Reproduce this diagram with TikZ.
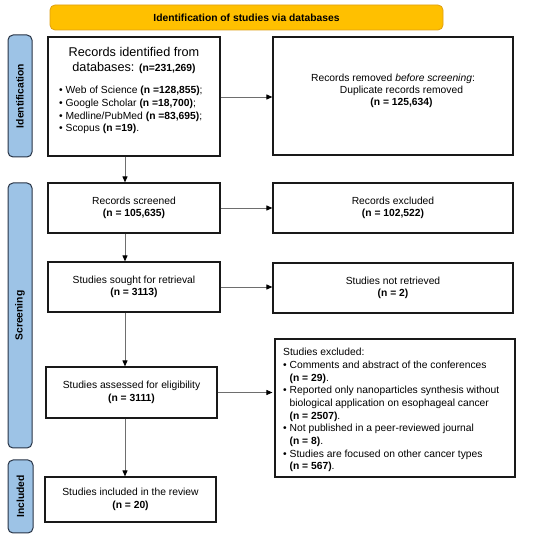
\documentclass[tikz,border=0pt]{standalone}
\usepackage{fontspec}
\setmainfont{Liberation Sans}
\usetikzlibrary{arrows.meta}

\definecolor{barfill}{RGB}{255,192,0}
\definecolor{bardraw}{RGB}{222,160,20}
\definecolor{sidefill}{RGB}{157,195,230}
\definecolor{sidedraw}{RGB}{40,52,70}
\definecolor{arrgray}{RGB}{110,110,110}

\newcommand{\bul}{\textbullet\ }
\newcommand{\ind}{\hphantom{\textbullet\ }}

\tikzset{
  box/.style={draw=black!90, line width=1.2pt, inner sep=0pt, align=center,
    font=\fontsize{10.3}{12.4}\selectfont},
  sidebox/.style={draw=sidedraw, fill=sidefill, line width=1pt, rounded corners=5pt,
    rotate=90, inner sep=0pt, font=\fontsize{10.3}{12}\selectfont\bfseries},
  titlebar/.style={draw=bardraw, fill=barfill, line width=0.8pt, rounded corners=5pt,
    inner sep=0pt, font=\fontsize{10.3}{12}\selectfont\bfseries},
  txt/.style={inner sep=0pt, font=\fontsize{10.3}{12.7}\selectfont},
  arr/.style={draw=arrgray, line width=0.9pt, -{Triangle[length=6pt,width=5pt,black]}}
}

\begin{document}
\begin{tikzpicture}[x=1pt, y=-1pt]
  \useasboundingbox (0,0) rectangle (550,540);

  % Title bar
  \node[titlebar, minimum width=393pt, minimum height=25pt] (title) at (246.5,17.5)
    {Identification of studies via databases};

  % Side labels
  \node[sidebox, minimum width=122pt, minimum height=24pt] (sideid) at (20,96) {Identification};
  \node[sidebox, minimum width=265pt, minimum height=24pt] (sidescr) at (20,315.5) {Screening};
  \node[sidebox, minimum width=73pt, minimum height=25pt] (sideinc) at (20.5,496.5) {Included};

  % Identification
  \node[box, minimum width=172pt, minimum height=119pt] (ident) at (134,96.5) {};
  \node[txt, anchor=north, align=center, font=\fontsize{12.7}{15}\selectfont] (identhead) at (134,47)
    {Records identified from\\databases: {\fontsize{10.3}{12}\selectfont\bfseries (n=231,269)}};
  \node[txt, anchor=north west, align=left, font=\fontsize{10.3}{12.7}\selectfont] (identlist) at (59,86)
    {\bul Web of Science \textbf{(n =128,855)};\\
     \bul Google Scholar \textbf{(n =18,700)};\\
     \bul Medline/PubMed \textbf{(n =83,695)};\\
     \bul Scopus \textbf{(n =19)}.};

  \node[box, minimum width=240pt, minimum height=118pt] (removed) at (393,96) {};
  \node[txt, align=center, font=\fontsize{10.3}{12.2}\selectfont] (removedtxt) at (401.5,91)
    {Records removed \textit{before screening}:\hspace*{17pt}\\
     Duplicate records removed\\
     \textbf{(n = 125,634)}};

  % Screening
  \node[box, minimum width=172pt, minimum height=50pt] (screened) at (134,208)
    {Records screened\\\textbf{(n = 105,635)}};
  \node[box, minimum width=240pt, minimum height=50pt] (excluded) at (393,208)
    {Records excluded\\\textbf{(n = 102,522)}};

  \node[box, minimum width=172pt, minimum height=50pt] (sought) at (134,287)
    {Studies sought for retrieval\\\textbf{(n = 3113)}};
  \node[box, minimum width=240pt, minimum height=50pt] (notret) at (393,288)
    {Studies not retrieved\\\textbf{(n = 2)}};

  \node[box, minimum width=171pt, minimum height=51pt] (assessed) at (131.5,392.5)
    {Studies assessed for eligibility\\\textbf{(n = 3111)}};
  \node[box, minimum width=240pt, minimum height=138pt] (studexcl) at (395,408) {};
  \node[txt, anchor=north west, align=left] (studexcltxt) at (283,348)
    {Studies excluded:\\
     \bul Comments and abstract of the conferences\\
     \ind\textbf{(n = 29)}.\\
     \bul Reported only nanoparticles synthesis without\\
     \ind biological application on esophageal cancer\\
     \ind\textbf{(n = 2507)}.\\
     \bul Not published in a peer-reviewed journal\\
     \ind\textbf{(n = 8)}.\\
     \bul Studies are focused on other cancer types\\
     \ind\textbf{(n = 567)}.};

  % Included
  \node[box, minimum width=171pt, minimum height=45pt] (included) at (130.5,499.5)
    {Studies included in the review\\\textbf{(n = 20)}};

  % Arrows
  \coordinate (vx) at (125,0);
  \draw[arr] (ident.south -| vx) -- (screened.north -| vx);
  \draw[arr] (screened.south -| vx) -- (sought.north -| vx);
  \draw[arr] (sought.south -| vx) -- (assessed.north -| vx);
  \draw[arr] (assessed.south -| vx) -- (included.north -| vx);

  \draw[arr] (ident.east |- 0,97) -- (removed.west |- 0,97);
  \draw[arr] (screened.east) -- (excluded.west |- screened.east);
  \draw[arr] (sought.east) -- (notret.west |- sought.east);
  \draw[arr, shorten >=2pt] (assessed.east) -- (studexcl.west |- assessed.east);
\end{tikzpicture}
\end{document}
